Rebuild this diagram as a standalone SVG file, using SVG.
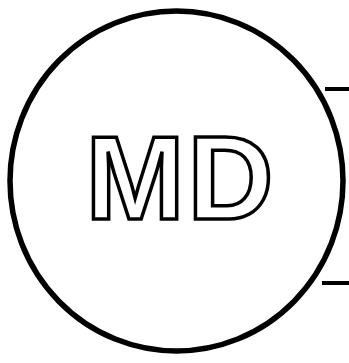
<svg xmlns="http://www.w3.org/2000/svg" width="349" height="363" viewBox="0 0 349 363">
<style>
.ring{fill:none;stroke:#000;stroke-width:5.5}
.lbl{font-family:"Liberation Sans",Arial,sans-serif;font-weight:bold;font-size:119px;letter-spacing:3px;fill:#fff;stroke:#000;stroke-width:3.5;stroke-linejoin:miter}
.wire{stroke:#000;stroke-width:4;fill:none}
</style>
<rect width="349" height="363" fill="#fff"/>
<g id="md">
<ellipse class="ring" cx="176.5" cy="181" rx="166.5" ry="170"/>
<text class="lbl" x="181" y="219" text-anchor="middle">MD</text>
</g>
<g id="connectors">
<line class="wire" x1="325" y1="89" x2="349" y2="89"/>
<line class="wire" x1="322" y1="283" x2="349" y2="283"/>
</g>
</svg>
